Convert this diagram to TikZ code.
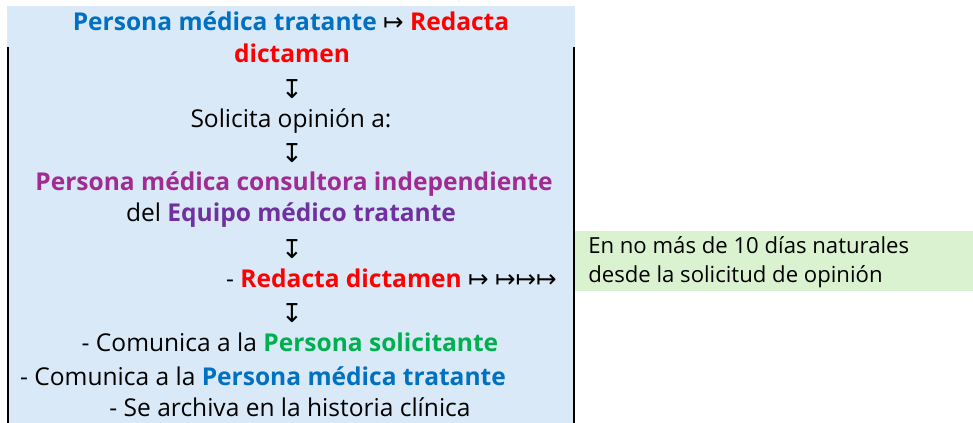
\documentclass[tikz,border=0pt]{standalone}
\usepackage{fontspec}
\setmainfont{Open Sans}
\newfontfamily\arrowfont{DejaVu Sans}
\usetikzlibrary{positioning}

\definecolor{boxblue}{HTML}{DAE9F7}
\definecolor{notegreen}{HTML}{DAF2D0}
\definecolor{tblue}{HTML}{0070C0}
\definecolor{tred}{HTML}{FF0000}
\definecolor{tmagenta}{HTML}{A02B93}
\definecolor{tpurple}{HTML}{7030A0}
\definecolor{tgreen}{HTML}{00B050}

\newcommand{\maparrow}{{\arrowfont ↦}}
\newcommand{\downbar}{{\arrowfont ↧}}

\begin{document}
\begin{tikzpicture}[
    x=0.75pt, y=-0.75pt,
    txt/.style={inner sep=0pt, anchor=base, font=\fontsize{18.4}{22}\selectfont},
    bold/.style={txt, font=\fontsize{18.4}{22}\selectfont\bfseries},
    note/.style={inner sep=0pt, anchor=base west, font=\fontsize{16.6}{20}\selectfont},
    step arrow/.style={inner sep=0pt, anchor=center, font=\fontsize{19.5}{22}\selectfont},
    edge/.style={line width=2.2pt}
]
\useasboundingbox (0,0) rectangle (973,423);
% fondos
\fill[boxblue] (7,6) rectangle (575,423);
\fill[notegreen] (575,231) rectangle (973,291);
\draw[edge] (8,47) -- (8,423);
\draw[edge] (574,47) -- (574,423);

% flujo
\node[txt] (tratante) at (291,31) {\textbf{\color{tblue}Persona médica tratante} \maparrow{} \textbf{\color{tred}Redacta}};
\node[txt] (dictamen) at (292,63) {\textbf{\color{tred}dictamen}};
\node[step arrow] (a1) at (292,89) {\downbar};
\node[txt] (solicita) at (291,128) {Solicita opinión a:};
\node[step arrow] (a2) at (292,153) {\downbar};
\node[bold, text=tmagenta] (consultora) at (294,191) {Persona médica consultora independiente};
\node[txt] (equipo) at (291,222) {del \textbf{\color{tpurple}Equipo médico tratante}};
\node[step arrow] (a3) at (292,249) {\downbar};
\node[txt, anchor=base east] (redacta) at (557,288) {- \textbf{\color{tred}Redacta dictamen} \maparrow{} \maparrow\maparrow\maparrow};
\node[step arrow] (a4) at (292,313) {\downbar};
\node[txt] (solicitante) at (290,352) {- Comunica a la \textbf{\color{tgreen}Persona solicitante}};
\node[txt] (medica) at (263,385) {- Comunica a la \textbf{\color{tblue}Persona médica tratante}};
\node[txt] (archiva) at (290,416) {- Se archiva en la historia clínica};

% plazo
\node[note] (plazo) at (588,254) {En no más de 10 días naturales};
\node[note] (plazo2) at (588,283) {desde la solicitud de opinión};
\end{tikzpicture}
\end{document}
